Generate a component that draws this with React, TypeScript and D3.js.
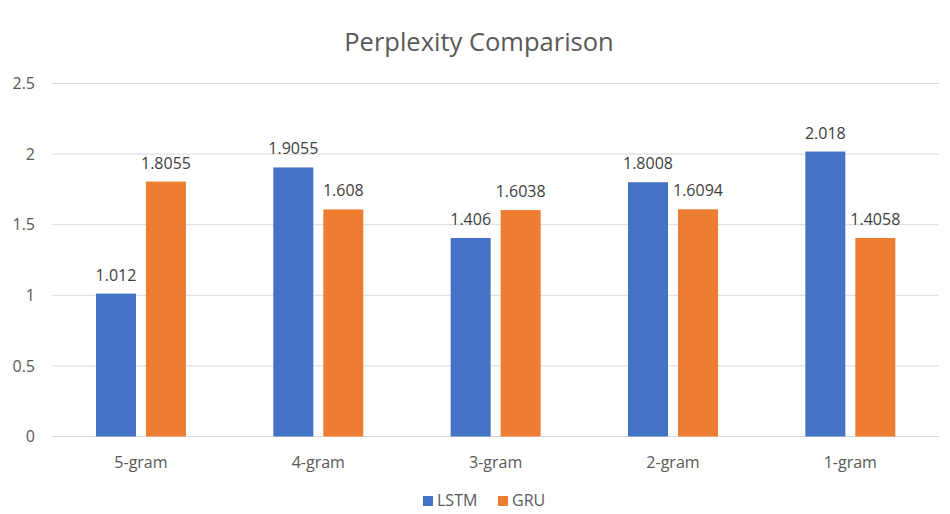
import React from "react";
import * as d3 from "d3";

const categories = ["5-gram", "4-gram", "3-gram", "2-gram", "1-gram"];
const seriesNames = ["LSTM", "GRU"];
const lstmValues = [1.012, 1.9055, 1.406, 1.8008, 2.018];
const gruValues = [1.8055, 1.608, 1.6038, 1.6094, 1.4058];
const yTicks = [0, 0.5, 1, 1.5, 2, 2.5];
const colors = ["#4472C4", "#ED7D31"];

const W = 950;
const H = 514;
const left = 52.3;
const right = 939;
const top = 83.5;
const bottom = 436.5;
const font = "'Open Sans', sans-serif";

export default function App() {
  const x0 = d3.scaleBand<string>().domain(categories).range([left, right]).padding(0);
  const groupW = 90;
  const x1 = d3.scaleBand<string>().domain(seriesNames).range([0, groupW]).paddingInner(0.2);
  const y = d3.scaleLinear().domain([0, 2.5]).range([bottom, top]);
  const data = [lstmValues, gruValues];

  return (
    <svg width={W} height={H} style={{ position: "absolute", left: 0, top: 0, background: "#fff" }} fontFamily={font}>
      <rect x={0} y={0} width={W} height={H} fill="#fff" />
      <text x={479} y={51} textAnchor="middle" fontSize={25.5} fill="#595959">
        Perplexity Comparison
      </text>
      {yTicks.map((t) => (
        <g key={t}>
          <line x1={left} x2={right} y1={y(t)} y2={y(t)} stroke="#d9d9d9" strokeWidth={1} />
          <text x={35} y={y(t)} dy="0.35em" textAnchor="end" fontSize={16} fill="#595959">
            {String(t)}
          </text>
        </g>
      ))}
      {categories.map((c, i) => {
        const gx = (x0(c) as number) + (x0.bandwidth() - groupW) / 2;
        return (
          <g key={c}>
            {seriesNames.map((s, j) => {
              const v = data[j][i];
              const bx = gx + (x1(s) as number);
              const bw = x1.bandwidth();
              return (
                <g key={s}>
                  <rect x={bx} y={y(v)} width={bw} height={y(0) - y(v)} fill={colors[j]} />
                  <text x={bx + bw / 2} y={y(v) - 13} textAnchor="middle" fontSize={16} fill="#404040">
                    {String(v)}
                  </text>
                </g>
              );
            })}
            <text x={(x0(c) as number) + x0.bandwidth() / 2} y={468} textAnchor="middle" fontSize={16} fill="#595959">
              {c}
            </text>
          </g>
        );
      })}
      {seriesNames.map((s, j) => {
        const lx = j === 0 ? 423 : 498;
        return (
          <g key={s}>
            <rect x={lx} y={496} width={10} height={10} fill={colors[j]} />
            <text x={lx + 14} y={506} fontSize={16} fill="#595959">
              {s}
            </text>
          </g>
        );
      })}
    </svg>
  );
}
